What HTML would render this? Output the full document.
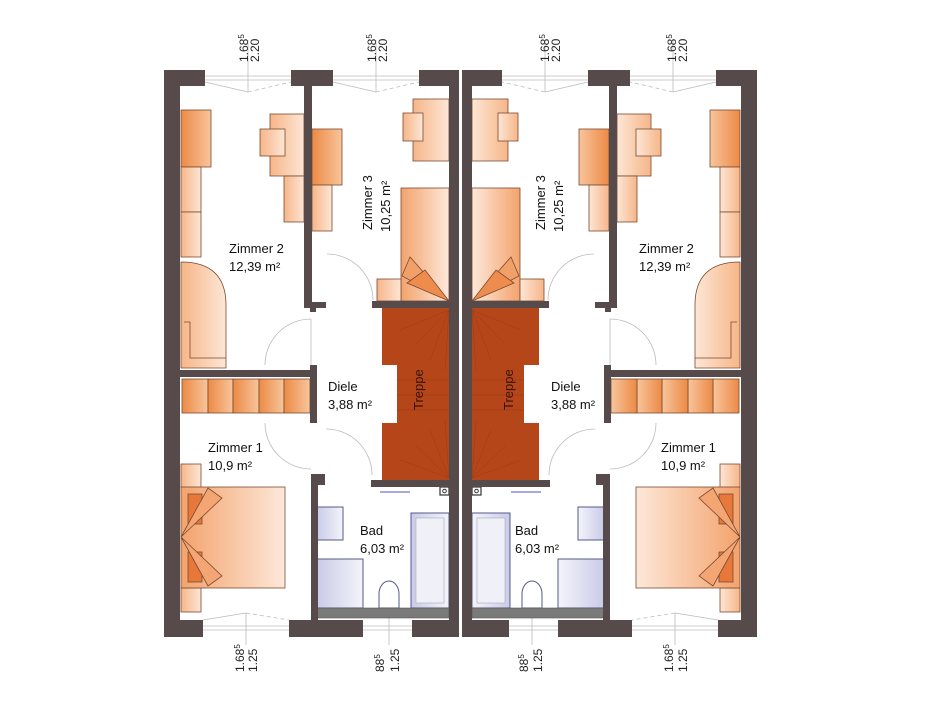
<!DOCTYPE html>
<html><head><meta charset="utf-8"><style>
html,body{margin:0;padding:0;background:#fff;}
svg{display:block;}
text{font-family:"Liberation Sans",Arial,sans-serif;}
</style></head><body>
<svg width="925" height="707" viewBox="0 0 925 707" xmlns="http://www.w3.org/2000/svg">
<defs>
<linearGradient id="og" x1="0" x2="1" y1="0" y2="0"><stop offset="0" stop-color="#ec8a45"/><stop offset="1" stop-color="#f8c59c"/></linearGradient>
<linearGradient id="lg" x1="0" x2="1" y1="0" y2="0"><stop offset="0" stop-color="#f6b688"/><stop offset="1" stop-color="#fde6d6"/></linearGradient>
<linearGradient id="bg" x1="0" x2="1" y1="0" y2="0"><stop offset="0" stop-color="#f3a36c"/><stop offset="1" stop-color="#fde8da"/></linearGradient>
<linearGradient id="sg" x1="0" x2="1" y1="0" y2="0"><stop offset="0" stop-color="#c9cbe8"/><stop offset="1" stop-color="#f4f4fb"/></linearGradient>
<g id="L">
 <g stroke="#bbb" stroke-width="0.8" fill="none">
  <line x1="205" y1="76" x2="291" y2="76"/><line x1="205" y1="80" x2="291" y2="80"/>
  <line x1="333" y1="76" x2="419" y2="76"/><line x1="333" y1="80" x2="419" y2="80"/>
  <line x1="205" y1="82" x2="248" y2="92"/><line x1="248" y1="92" x2="291" y2="82" stroke-dasharray="4 3"/>
  <line x1="333" y1="82" x2="376" y2="92"/><line x1="376" y1="92" x2="419" y2="82" stroke-dasharray="4 3"/>
  <line x1="248" y1="40" x2="248" y2="92"/><line x1="376" y1="40" x2="376" y2="92"/>
  <line x1="203" y1="626" x2="289" y2="626"/><line x1="203" y1="630" x2="289" y2="630"/>
  <line x1="203" y1="620" x2="246" y2="613"/><line x1="246" y1="613" x2="289" y2="620" stroke-dasharray="4 3"/>
  <line x1="246" y1="613" x2="246" y2="645"/>
  <line x1="363" y1="626" x2="412" y2="626"/><line x1="363" y1="630" x2="412" y2="630"/>
  <line x1="389" y1="618" x2="389" y2="645"/>
  <path d="M265 365 A46 46 0 0 1 311 319"/><line x1="311" y1="319" x2="311" y2="365"/>
  <path d="M327 254 A46 46 0 0 1 373 300"/>
  <path d="M265 423 A46 46 0 0 0 311 469"/>
  <path d="M326 429 A46 46 0 0 1 372 475"/>
 </g>
 <g stroke="#7a4a30" stroke-width="0.8">
  <rect x="181" y="110" width="30" height="57" fill="url(#og)"/>
  <rect x="181" y="167" width="20" height="45" fill="url(#lg)"/>
  <rect x="181" y="212" width="20" height="45" fill="url(#lg)"/>
  <path d="M181 262 Q226 262 226 305 L226 368 L181 368 Z" fill="url(#lg)"/>
  <path d="M184 322 L190 322 L190 358 L226 358" fill="none"/>
  <rect x="270" y="114" width="34" height="62" fill="url(#lg)"/>
  <rect x="260" y="129" width="25" height="27" fill="url(#lg)"/>
  <rect x="284" y="176" width="20" height="46" fill="url(#lg)"/>
  <rect x="312" y="129" width="30" height="56" fill="url(#og)"/>
  <rect x="312" y="185" width="20" height="46" fill="url(#lg)"/>
  <rect x="413" y="99" width="36" height="62" fill="url(#lg)"/>
  <rect x="403" y="113" width="20" height="28" fill="url(#lg)"/>
  <rect x="401" y="188" width="48" height="113" fill="url(#bg)"/>
  <rect x="377" y="279" width="24" height="22" fill="url(#lg)"/>
  <path d="M402 276 L410 257 L449 301 Z" fill="#f2a06a"/>
  <path d="M407 283 L425 270 L449 301 Z" fill="#ee8c4e"/>
  <g fill="url(#og)">
   <rect x="182" y="379" width="26" height="34"/><rect x="208" y="379" width="25" height="34"/><rect x="233" y="379" width="26" height="34"/><rect x="259" y="379" width="25" height="34"/><rect x="284" y="379" width="26" height="34"/>
  </g>
  <rect x="181" y="464" width="20" height="24" fill="url(#lg)"/>
  <rect x="181" y="588" width="20" height="24" fill="url(#lg)"/>
  <rect x="181" y="487" width="104" height="101" fill="url(#bg)"/>
  <rect x="188" y="494" width="14" height="30" fill="#e8783a"/>
  <rect x="188" y="552" width="14" height="30" fill="#e8783a"/>
  <path d="M181 537 L208 488 L222 498 Z" fill="#f4a574"/>
  <path d="M181 537 L208 586 L222 576 Z" fill="#f4a574"/>
 </g>
 <g stroke="#555a88" stroke-width="1">
  <rect x="317" y="507" width="26" height="33" fill="url(#sg)"/>
  <rect x="317" y="559" width="46" height="49" fill="url(#sg)"/>
  <path d="M379 608 L379 594 A10 13 0 0 1 399 594 L399 608 Z" fill="#fff"/>
  <rect x="411" y="513" width="38" height="95" fill="url(#sg)"/>
  <rect x="416" y="518" width="28" height="85" fill="#f0f0f8" stroke="#aab" stroke-width="0.6"/>
 </g>
 <line x1="380" y1="492" x2="410" y2="492" stroke="#a8aadf" stroke-width="2"/>
 <rect x="440" y="487" width="9" height="8" fill="#fff" stroke="#333" stroke-width="1.2"/>
 <circle cx="444.5" cy="491" r="1.8" fill="none" stroke="#333"/>
 <rect x="317" y="608" width="132" height="10" fill="#7a7a7a" stroke="#555" stroke-width="0.6"/>
 <rect x="382" y="308" width="67" height="172" fill="#b5461a"/>
 <g stroke="#8e3510" stroke-width="0.5" fill="none" opacity="0.6">
  <path d="M449 310 L400 330 M449 310 L415 345 M449 310 L430 360 M449 310 L445 370"/>
  <path d="M449 478 L400 460 M449 478 L415 445 M449 478 L430 430 M449 478 L445 420"/>
  <path d="M397 380 L449 380 M397 395 L449 395 M397 410 L449 410"/>
 </g>
 <rect x="382" y="365" width="15" height="58" fill="#fff"/>
 <g fill="#574a4a">
  <rect x="164" y="70" width="16" height="567"/>
  <rect x="164" y="70" width="41" height="16"/>
  <rect x="291" y="70" width="42" height="16"/>
  <rect x="419" y="70" width="40" height="16"/>
  <rect x="449" y="70" width="10" height="567"/>
  <rect x="304" y="86" width="8" height="222"/>
  <rect x="304" y="302" width="22" height="6"/>
  <rect x="310" y="302" width="6" height="10"/>
  <rect x="372" y="301" width="77" height="7"/>
  <rect x="371" y="480" width="78" height="7"/>
  <rect x="180" y="370" width="132" height="7"/>
  <rect x="310" y="365" width="7" height="58"/>
  <rect x="311" y="474" width="7" height="163"/>
  <rect x="311" y="474" width="14" height="11"/>
  <rect x="164" y="620" width="39" height="17"/>
  <rect x="289" y="620" width="74" height="17"/>
  <rect x="412" y="620" width="47" height="17"/>
 </g>
</g>
</defs>
<use href="#L"/>
<use href="#L" transform="translate(921,0) scale(-1,1)"/>

<g font-size="13" fill="#111">
 <text x="229" y="253">Zimmer 2</text><text x="229" y="271">12,39 m²</text>
 <text x="639" y="253">Zimmer 2</text><text x="639" y="271">12,39 m²</text>
 <text transform="translate(372,230) rotate(-90)">Zimmer 3</text>
 <text transform="translate(390,232) rotate(-90)">10,25 m²</text>
 <text transform="translate(545,230) rotate(-90)">Zimmer 3</text>
 <text transform="translate(563,232) rotate(-90)">10,25 m²</text>
 <text x="328" y="391">Diele</text><text x="328" y="409">3,88 m²</text>
 <text x="551" y="391">Diele</text><text x="551" y="409">3,88 m²</text>
 <text x="208" y="452">Zimmer 1</text><text x="208" y="470">10,9 m²</text>
 <text x="661" y="452">Zimmer 1</text><text x="661" y="470">10,9 m²</text>
 <text x="360" y="535">Bad</text><text x="360" y="553">6,03 m²</text>
 <text x="515" y="535">Bad</text><text x="515" y="553">6,03 m²</text>
 <text transform="translate(423,410) rotate(-90)" fill="#3a1205">Treppe</text>
 <text transform="translate(513,410) rotate(-90)" fill="#3a1205">Treppe</text>
</g>
<g font-size="12" fill="#222">
 <text transform="translate(248,62) rotate(-90)">1.68<tspan font-size="8" dy="-4">5</tspan></text>
 <text transform="translate(259,62) rotate(-90)">2.20</text>
 <text transform="translate(376,62) rotate(-90)">1.68<tspan font-size="8" dy="-4">5</tspan></text>
 <text transform="translate(387,62) rotate(-90)">2.20</text>
 <text transform="translate(549,62) rotate(-90)">1.68<tspan font-size="8" dy="-4">5</tspan></text>
 <text transform="translate(560,62) rotate(-90)">2.20</text>
 <text transform="translate(676,62) rotate(-90)">1.68<tspan font-size="8" dy="-4">5</tspan></text>
 <text transform="translate(687,62) rotate(-90)">2.20</text>
 <text transform="translate(244,672) rotate(-90)">1.68<tspan font-size="8" dy="-4">5</tspan></text>
 <text transform="translate(257,672) rotate(-90)">1.25</text>
 <text transform="translate(384,672) rotate(-90)">88<tspan font-size="8" dy="-4">5</tspan></text>
 <text transform="translate(399,672) rotate(-90)">1.25</text>
 <text transform="translate(528,672) rotate(-90)">88<tspan font-size="8" dy="-4">5</tspan></text>
 <text transform="translate(542,672) rotate(-90)">1.25</text>
 <text transform="translate(673,672) rotate(-90)">1.68<tspan font-size="8" dy="-4">5</tspan></text>
 <text transform="translate(687,672) rotate(-90)">1.25</text>
</g>
</svg>
</body></html>
